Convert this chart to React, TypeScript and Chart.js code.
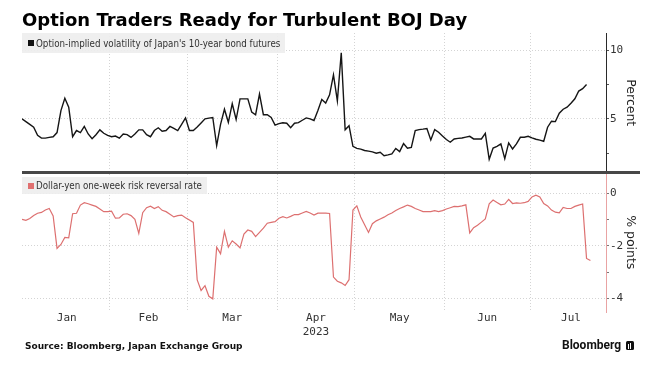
import React, { useEffect, useRef } from 'react';
import { Chart, registerables } from 'chart.js';

Chart.register(...registerables);

// ---- Data (one value per weekday, starting Fri 30 Dec 2022) ----
const TITLE = 'Option Traders Ready for Turbulent BOJ Day';
const SERIES_TOP_LABEL = "Option-implied volatility of Japan's 10-year bond futures";
const SERIES_BOTTOM_LABEL = 'Dollar-yen one-week risk reversal rate';
const SOURCE = 'Source: Bloomberg, Japan Exchange Group';

const MONTH_LABELS = ['Jan', 'Feb', 'Mar', 'Apr', 'May', 'Jun', 'Jul'];
const YEAR_LABEL = '2023';
const YEAR_UNDER_MONTH = 'Apr';

const TOP_TICKS = [2.5, 5, 7.5, 10];
const TOP_LABELLED = [5, 10];
const BOTTOM_TICKS = [-4, -3, -2, -1, 0];
const BOTTOM_LABELLED = [-4, -2, 0];

// Option-implied volatility of JGB 10y futures (percent)
const VOL_10Y = [
  5.0, 4.8, 4.6, 4.4, 3.8, 3.6, 3.6, 3.65, 3.7, 4.0,
  5.6, 6.5, 5.85, 3.7, 4.15, 4.0, 4.45, 3.9, 3.55, 3.85,
  4.2, 3.95, 3.8, 3.7, 3.75, 3.6, 3.9, 3.85, 3.65, 3.9,
  4.2, 4.2, 3.85, 3.7, 4.15, 4.35, 4.1, 4.15, 4.45, 4.3,
  4.15, 4.6, 5.07, 4.15, 4.15, 4.4, 4.7, 5.0, 5.05, 5.1,
  3.05, 4.6, 5.7, 4.75, 6.1, 4.95, 6.45, 6.45, 6.45, 5.5,
  5.3, 6.8, 5.3, 5.3, 5.1, 4.55, 4.65, 4.72, 4.68, 4.35,
  4.68, 4.72, 4.9, 5.07, 5.0, 4.88, 5.6, 6.4, 6.15, 6.75,
  8.2, 6.3, 9.8, 4.2, 4.5, 3.0, 2.85, 2.8, 2.7, 2.65,
  2.6, 2.5, 2.57, 2.32, 2.38, 2.45, 2.85, 2.62, 3.2, 2.86,
  2.93, 4.15, 4.22, 4.25, 4.3, 3.47, 4.22, 4.03, 3.75, 3.5,
  3.3, 3.54, 3.58, 3.61, 3.67, 3.73, 3.54, 3.54, 3.54, 3.95,
  2.06, 2.88, 3.0, 3.18, 2.1, 3.25, 2.81, 3.18, 3.66, 3.66,
  3.73, 3.62, 3.52, 3.45, 3.37, 4.39, 4.83, 4.8, 5.41, 5.7,
  5.85, 6.14, 6.46, 7.02, 7.19, 7.5,
];

// Dollar-yen one-week risk reversal (% points)
const RISK_REVERSAL = [
  -0.99, -1.03, -0.96, -0.85, -0.76, -0.73, -0.64, -0.58, -0.86, -2.1,
  -1.95, -1.68, -1.7, -0.78, -0.76, -0.45, -0.36, -0.4, -0.45, -0.5,
  -0.6, -0.7, -0.7, -0.68, -0.95, -0.94, -0.8, -0.78, -0.85, -0.99,
  -1.53, -0.74, -0.55, -0.49, -0.58, -0.51, -0.65, -0.7, -0.8, -0.9,
  -0.85, -0.83, -0.93, -1.02, -1.11, -3.3, -3.7, -3.52, -3.92, -4.02,
  -2.05, -2.3, -1.45, -2.05, -1.81, -1.93, -2.08, -1.55, -1.4, -1.45,
  -1.65, -1.49, -1.33, -1.14, -1.11, -1.08, -0.95, -0.89, -0.94, -0.88,
  -0.81, -0.81, -0.75, -0.69, -0.75, -0.83, -0.76, -0.76, -0.76, -0.77,
  -3.19, -3.35, -3.41, -3.51, -3.29, -0.64, -0.48, -0.9, -1.2, -1.49,
  -1.16, -1.05, -0.98, -0.91, -0.82, -0.75, -0.66, -0.58, -0.52, -0.45,
  -0.5, -0.58, -0.64, -0.7, -0.7, -0.7, -0.66, -0.7, -0.66, -0.6,
  -0.55, -0.5, -0.51, -0.48, -0.44, -1.51, -1.31, -1.22, -1.1, -0.98,
  -0.4, -0.26, -0.35, -0.44, -0.41, -0.23, -0.39, -0.37, -0.38, -0.36,
  -0.31, -0.14, -0.07, -0.14, -0.39, -0.48, -0.64, -0.72, -0.75, -0.54,
  -0.58, -0.58, -0.5, -0.45, -0.41, -2.48, -2.56,
];

const FIRST_DAY = '2022-12-30';
const LAST_CALENDAR_DAY = '2023-07-31';
const AXIS_END_DAY = '2023-07-28';

const TOP_RANGE = [1.1, 11.24];
const BOTTOM_RANGE = [-4.52, 0.79];

// ---- helpers: weekday categories ----
function weekdayDates(from: string, to: string): string[] {
  const out: string[] = [];
  const d = new Date(from + 'T00:00:00Z');
  const end = new Date(to + 'T00:00:00Z');
  while (d <= end) {
    const wd = d.getUTCDay();
    if (wd !== 0 && wd !== 6) out.push(d.toISOString().slice(0, 10));
    d.setUTCDate(d.getUTCDate() + 1);
  }
  return out;
}

const DATES = weekdayDates(FIRST_DAY, LAST_CALENDAR_DAY);

function monthInfo() {
  const centers: number[] = [];
  const bounds: number[] = [];
  for (let m = 0; m < MONTH_LABELS.length; m++) {
    const key = `2023-${String(m + 1).padStart(2, '0')}`;
    const idx = DATES.map((d, i) => (d.startsWith(key) ? i : -1)).filter((i) => i >= 0);
    const first = idx[0];
    const last = idx[idx.length - 1];
    centers.push((first + last) / 2);
    if (m < MONTH_LABELS.length - 1) bounds.push(last + 0.5);
  }
  return { centers, bounds };
}

const TICK_FONT = { family: "'DejaVu Sans Mono', monospace", size: 11 };
const LEGEND_FONT = "'DejaVu Sans Condensed', 'Liberation Sans Narrow', 'DejaVu Sans', sans-serif";

export default function App() {
  const ref = useRef<HTMLCanvasElement | null>(null);

  useEffect(() => {
    if (!ref.current) return;
    const { centers, bounds } = monthInfo();
    const axisEnd = DATES.indexOf(AXIS_END_DAY);

    const separator = {
      id: 'panelSeparator',
      afterDraw(chart: any) {
        const y1 = chart.scales.y1;
        const ctx = chart.ctx;
        ctx.save();
        ctx.strokeStyle = '#474747';
        ctx.lineWidth = 3;
        ctx.beginPath();
        ctx.moveTo(chart.chartArea.left, y1.bottom);
        ctx.lineTo(640, y1.bottom);
        ctx.stroke();
        ctx.restore();
      },
    };

    const gridColor = '#d4d4d4';

    const chart = new Chart(ref.current, {
      type: 'line',
      data: {
        datasets: [
          {
            label: SERIES_TOP_LABEL,
            data: VOL_10Y.map((v, i) => ({ x: i, y: v })),
            borderColor: '#151515',
            borderWidth: 1.4,
            pointRadius: 0,
            tension: 0,
            xAxisID: 'x',
            yAxisID: 'y1',
          },
          {
            label: SERIES_BOTTOM_LABEL,
            data: RISK_REVERSAL.map((v, i) => ({ x: i, y: v })),
            borderColor: '#dd7070',
            borderWidth: 1.2,
            pointRadius: 0,
            tension: 0,
            xAxisID: 'x',
            yAxisID: 'y2',
          },
        ],
      },
      options: {
        responsive: false,
        devicePixelRatio: 1,
        animation: false,
        layout: { padding: { left: 22, top: 33, right: 33, bottom: 24 } },
        plugins: { legend: { display: false }, tooltip: { enabled: false } },
        scales: {
          x: {
            type: 'linear',
            position: 'bottom',
            min: 0,
            max: axisEnd,
            grid: { display: false, drawTicks: false },
            border: { display: false },
            afterBuildTicks: (axis: any) => {
              axis.ticks = centers.map((c) => ({ value: c }));
            },
            afterFit: (axis: any) => {
              axis.height = 30;
            },
            ticks: {
              autoSkip: false,
              maxRotation: 0,
              padding: 0,
              color: '#333',
              font: TICK_FONT,
              callback: (_v: any, i: number) =>
                MONTH_LABELS[i] === YEAR_UNDER_MONTH ? [MONTH_LABELS[i], YEAR_LABEL] : MONTH_LABELS[i],
            },
          },
          xg: {
            type: 'linear',
            position: 'top',
            min: 0,
            max: axisEnd,
            afterBuildTicks: (axis: any) => {
              axis.ticks = bounds.map((b) => ({ value: b }));
            },
            afterFit: (axis: any) => {
              axis.height = 0;
            },
            ticks: { display: false },
            grid: { color: gridColor, lineWidth: 1, drawTicks: false, borderDash: [1, 2] } as any,
            border: { display: false, dash: [1, 2] },
          },
          y1: {
            type: 'linear',
            position: 'right',
            stack: 'panels',
            stackWeight: 1,
            min: TOP_RANGE[0],
            max: TOP_RANGE[1],
            afterBuildTicks: (axis: any) => {
              axis.ticks = TOP_TICKS.map((v) => ({ value: v }));
            },
            afterFit: (axis: any) => {
              axis.width = 32;
            },
            ticks: {
              padding: 1,
              color: '#333',
              font: TICK_FONT,
              callback: (v: any) => (TOP_LABELLED.includes(v) ? String(v) : ''),
            },
            grid: {
              color: (c: any) => (c.tick && TOP_LABELLED.includes(c.tick.value) ? gridColor : 'rgba(0,0,0,0)'),
              tickColor: '#555',
              tickLength: 3,
              borderDash: [1, 2],
            } as any,
            border: { display: true, color: '#2a2a2a', width: 1, dash: [1, 2] },
            title: {
              display: true,
              text: 'Percent',
              color: '#222',
              padding: 0,
              font: { family: "'DejaVu Sans', sans-serif", size: 12.5 },
            },
          },
          y2: {
            type: 'linear',
            position: 'right',
            stack: 'panels',
            stackWeight: 1,
            min: BOTTOM_RANGE[0],
            max: BOTTOM_RANGE[1],
            afterBuildTicks: (axis: any) => {
              axis.ticks = BOTTOM_TICKS.map((v) => ({ value: v }));
            },
            afterFit: (axis: any) => {
              axis.width = 32;
            },
            ticks: {
              padding: 1,
              color: '#333',
              font: TICK_FONT,
              callback: (v: any) => (BOTTOM_LABELLED.includes(v) ? String(v) : ''),
            },
            grid: {
              color: (c: any) => (c.tick && BOTTOM_LABELLED.includes(c.tick.value) ? gridColor : 'rgba(0,0,0,0)'),
              tickColor: '#777',
              tickLength: 3,
              borderDash: [1, 2],
            } as any,
            border: { display: true, color: '#e9a3a3', width: 1, dash: [1, 2] },
            title: {
              display: true,
              text: '% points',
              color: '#222',
              padding: 0,
              font: { family: "'DejaVu Sans', sans-serif", size: 12.5 },
            },
          },
        },
      } as any,
      plugins: [separator],
    });

    return () => chart.destroy();
  }, []);

  const legendBox: React.CSSProperties = {
    position: 'absolute',
    left: 22,
    display: 'flex',
    alignItems: 'center',
    background: 'rgba(238,238,238,0.92)',
    fontFamily: LEGEND_FONT,
    fontSize: 9.7,
    color: '#333',
    whiteSpace: 'nowrap',
    paddingLeft: 6,
    paddingRight: 5,
    boxSizing: 'border-box',
  };

  return (
    <div
      style={{
        position: 'absolute',
        left: 0,
        top: 0,
        width: 671,
        height: 366,
        background: '#fff',
        overflow: 'hidden',
      }}
    >
      <canvas
        ref={ref}
        width={671}
        height={366}
        style={{ position: 'absolute', left: 0, top: 0, width: 671, height: 366 }}
      />
      <div
        style={{
          position: 'absolute',
          left: 22,
          top: 11,
          fontFamily: "'DejaVu Sans', sans-serif",
          fontWeight: 'bold',
          fontSize: 18,
          lineHeight: '18px',
          color: '#000',
          whiteSpace: 'nowrap',
        }}
      >
        {TITLE}
      </div>
      <div style={{ ...legendBox, top: 33, height: 20 }}>
        <span style={{ width: 6, height: 6, background: '#111', marginRight: 2, display: 'inline-block' }} />
        <span>{SERIES_TOP_LABEL}</span>
      </div>
      <div style={{ ...legendBox, top: 177, height: 17 }}>
        <span style={{ width: 6, height: 6, background: '#e07070', marginRight: 2, display: 'inline-block' }} />
        <span>{SERIES_BOTTOM_LABEL}</span>
      </div>
      <div
        style={{
          position: 'absolute',
          left: 25,
          top: 342,
          fontFamily: "'DejaVu Sans', sans-serif",
          fontWeight: 'bold',
          fontSize: 9,
          lineHeight: '9px',
          color: '#111',
          whiteSpace: 'nowrap',
        }}
      >
        {SOURCE}
      </div>
      <div
        style={{
          position: 'absolute',
          left: 562,
          top: 338,
          display: 'flex',
          alignItems: 'center',
          fontFamily: "Roboto, 'DejaVu Sans', sans-serif",
          fontWeight: 700,
          fontSize: 12,
          lineHeight: '14px',
          color: '#111',
          whiteSpace: 'nowrap',
        }}
      >
        <span>Bloomberg</span>
        <span
          style={{
            display: 'inline-block',
            marginLeft: 5,
            width: 8,
            height: 9,
            background: '#111',
            borderRadius: 1.5,
            position: 'relative',
          }}
        >
          <span style={{ position: 'absolute', left: 2, top: 3, width: 1, height: 5, background: '#fff' }} />
          <span style={{ position: 'absolute', left: 4, top: 2, width: 1, height: 6, background: '#fff' }} />
        </span>
      </div>
    </div>
  );
}
